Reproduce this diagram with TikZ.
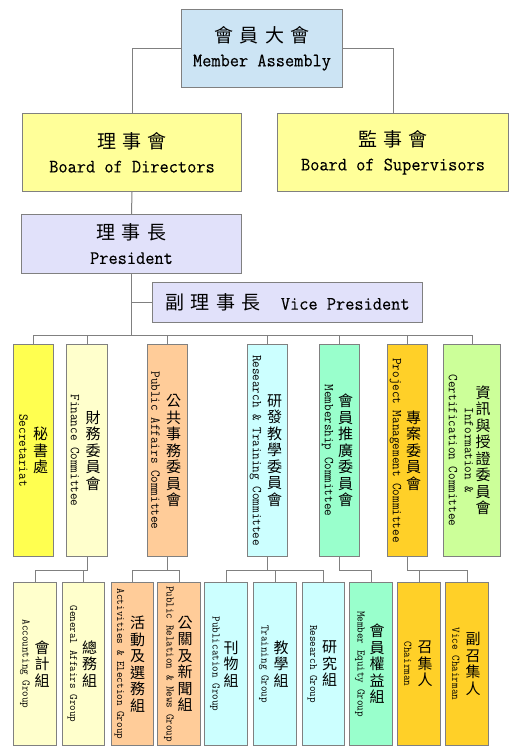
\documentclass[tikz,border=0pt]{standalone}
\usepackage{fontspec}
\setmainfont[FakeStretch=0.94]{Latin Modern Mono}
\newfontfamily\topfont[FakeStretch=0.94, FakeBold=0.3]{Latin Modern Mono}
\newfontfamily\cjk{Noto Sans CJK TC}
\newcommand{\cgap}{\hspace{6.5pt}}

\definecolor{linegray}{RGB}{128,128,128}
\definecolor{assemblyblue}{RGB}{204,228,244}
\definecolor{boardyellow}{RGB}{255,255,153}
\definecolor{presidentlav}{RGB}{225,225,250}
\definecolor{secyellow}{RGB}{255,255,80}
\definecolor{fincream}{RGB}{255,255,204}
\definecolor{pubpeach}{RGB}{255,204,153}
\definecolor{rescyan}{RGB}{204,255,255}
\definecolor{memaqua}{RGB}{153,255,204}
\definecolor{projgold}{RGB}{255,208,40}
\definecolor{infogreen}{RGB}{204,255,153}

\tikzset{
  box/.style={draw=linegray, line width=1pt, inner sep=0pt, anchor=north west},
  topbox/.style={box, align=center, font=\fontsize{19}{24}\selectfont\topfont},
  colbox/.style={box, minimum height=212pt},
  grpbox/.style={box, minimum height=163pt},
  zh/.style={align=center, inner sep=0pt, font=\fontsize{15}{16.5}\selectfont\cjk},
  encol/.style={rotate=-90, align=center, inner sep=0pt, font=\fontsize{13.6}{16}\selectfont},
  engrp/.style={rotate=-90, inner sep=0pt, font=\fontsize{11.5}{14}\selectfont},
  conn/.style={draw=linegray, line width=1pt}
}

\begin{document}
\begin{tikzpicture}[x=1pt, y=-1pt]
    \useasboundingbox (0,0) rectangle (520,755);
    % Top of the chart.
        \node[topbox, fill=assemblyblue, minimum width=161pt, minimum height=78pt] (assembly) at (181,9)
            {{\cjk 會\cgap 員\cgap 大\cgap 會}\\Member Assembly};
        \node[topbox, fill=boardyellow, minimum width=219pt, minimum height=78pt] (board) at (22,113)
            {{\cjk 理\cgap 事\cgap 會}\\Board of Directors};
        \node[topbox, fill=boardyellow, minimum width=231pt, minimum height=78pt] (supervisors) at (277,113)
            {{\cjk 監\cgap 事\cgap 會}\\Board of Supervisors};
        \node[topbox, fill=presidentlav, minimum width=220pt, minimum height=59pt] (president) at (21,214)
            {{\cjk 理\cgap 事\cgap 長}\\President};
        \node[topbox, fill=presidentlav, minimum width=270pt, minimum height=40pt] (vice) at (152,282)
            {{\cjk 副\cgap 理\cgap 事\cgap 長}\hspace{20pt}Vice President};
    % Committees.
        \node[colbox, fill=secyellow, minimum width=40pt] (sec) at (13,344) {};
        \node[colbox, fill=fincream, minimum width=41pt] (fin) at (66,344) {};
        \node[colbox, fill=pubpeach, minimum width=40pt] (pub) at (147,344) {};
        \node[colbox, fill=rescyan, minimum width=40pt] (res) at (247,344) {};
        \node[colbox, fill=memaqua, minimum width=40pt] (mem) at (319,344) {};
        \node[colbox, fill=projgold, minimum width=40pt] (proj) at (387,344) {};
        \node[colbox, fill=infogreen, minimum width=57pt] (info) at (443,344) {};
    % Below nodes are the committee labels.
        \node[zh] at ([xshift=7pt]sec.center) {秘\\書\\處};
        \node[encol] at ([xshift=-10pt]sec.center) {Secretariat};
        \node[zh] at ([xshift=6pt]fin.center) {財\\務\\委\\員\\會};
        \node[encol] at ([xshift=-12pt]fin.center) {Finance Committee};
        \node[zh] at ([xshift=6pt]pub.center) {公\\共\\事\\務\\委\\員\\會};
        \node[encol] at ([xshift=-12pt]pub.center) {Public Affairs Committee};
        \node[zh] at ([xshift=7pt]res.center) {研\\發\\教\\學\\委\\員\\會};
        \node[encol] at ([xshift=-12pt]res.center) {Research \& Training Committee};
        \node[zh] at ([xshift=6pt]mem.center) {會\\員\\推\\廣\\委\\員\\會};
        \node[encol] at ([xshift=-12pt]mem.center) {Membership Committee};
        \node[zh] at ([xshift=6pt]proj.center) {專\\案\\委\\員\\會};
        \node[encol] at ([xshift=-12pt]proj.center) {Project Management Committee};
        \node[zh] at ([xshift=11pt]info.center) {資\\訊\\與\\授\\證\\委\\員\\會};
        \node[encol] at ([xshift=-11pt]info.center) {Information \&\\Certification Committee};
    % Groups.
        \node[grpbox, fill=fincream, minimum width=43pt] (acc) at (13,582) {};
        \node[grpbox, fill=fincream, minimum width=42pt] (gen) at (62,582) {};
        \node[grpbox, fill=pubpeach, minimum width=42pt] (act) at (111,582) {};
        \node[grpbox, fill=pubpeach, minimum width=43pt] (prl) at (157,582) {};
        \node[grpbox, fill=rescyan, minimum width=43pt] (publ) at (204,582) {};
        \node[grpbox, fill=rescyan, minimum width=43pt] (trn) at (253,582) {};
        \node[grpbox, fill=rescyan, minimum width=42pt] (rsg) at (302,582) {};
        \node[grpbox, fill=memaqua, minimum width=43pt] (meq) at (349,582) {};
        \node[grpbox, fill=projgold, minimum width=43pt] (chm) at (397,582) {};
        \node[grpbox, fill=projgold, minimum width=43pt] (vch) at (445,582) {};
    % Below nodes are the group labels.
        \node[zh] at ([xshift=7pt]acc.center) {會\\計\\組};
        \node[engrp] at ([xshift=-10pt]acc.center) {Accounting Group};
        \node[zh] at ([xshift=6pt]gen.center) {總\\務\\組};
        \node[engrp] at ([xshift=-11pt]gen.center) {General Affairs Group};
        \node[zh] at ([xshift=5pt]act.center) {活\\動\\及\\選\\務\\組};
        \node[engrp] at ([xshift=-13pt]act.center) {Activities \& Election Group};
        \node[zh] at ([xshift=6pt]prl.center) {公\\關\\及\\新\\聞\\組};
        \node[engrp] at ([xshift=-10pt]prl.center) {Public Relation \& News Group};
        \node[zh] at ([xshift=5pt]publ.center) {刊\\物\\組};
        \node[engrp] at ([xshift=-11pt]publ.center) {Publication Group};
        \node[zh] at ([xshift=6pt]trn.center) {教\\學\\組};
        \node[engrp] at ([xshift=-11pt]trn.center) {Training Group};
        \node[zh] at ([xshift=6pt]rsg.center) {研\\究\\組};
        \node[engrp] at ([xshift=-11pt]rsg.center) {Research Group};
        \node[zh] at ([xshift=6pt]meq.center) {會\\員\\權\\益\\組};
        \node[engrp] at ([xshift=-11pt]meq.center) {Member Equity Group};
        \node[zh] at ([xshift=6pt]chm.center) {召\\集\\人};
        \node[engrp] at ([xshift=-11pt]chm.center) {Chairman};
        \node[zh] at ([xshift=6pt]vch.center) {副\\召\\集\\人};
        \node[engrp] at ([xshift=-11pt]vch.center) {Vice Chairman};
    % This draws the connectors.
        \coordinate (bus) at (131.5,335);
        \draw[conn] (assembly.west) -| (board.north);
        \draw[conn] (assembly.east) -| (supervisors.north);
        \draw[conn] (board.south) -- (president.north);
        \draw[conn] (president.south) -- (bus);
        \draw[conn] (president.south |- vice.west) -- (vice.west);
        \foreach \c in {sec,fin,pub,res,mem,proj,info}
            \draw[conn] (bus) -| (\c.north);
        \foreach \p/\g in {fin/acc,fin/gen,pub/act,pub/prl,res/publ,res/trn,res/rsg,mem/meq,proj/chm,proj/vch}
            \draw[conn] (\p.south) -- ++(0,13) -| (\g.north);
\end{tikzpicture}
\end{document}
